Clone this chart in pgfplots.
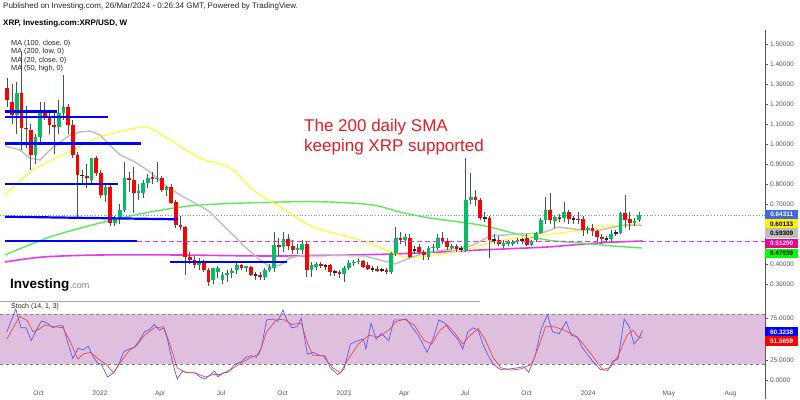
\documentclass[border=0pt]{standalone}
\usepackage{pgfplots}
\pgfplotsset{compat=1.18}
\usepackage{pgfplotstable}
\usepackage{fontspec}
\setmainfont{Liberation Sans}
\definecolor{upc}{RGB}{0,190,100}
\definecolor{dnc}{RGB}{255,0,0}
\definecolor{wick}{RGB}{65,90,75}
\definecolor{maY}{RGB}{255,250,70}
\definecolor{maG}{RGB}{190,190,190}
\definecolor{maGr}{RGB}{90,235,90}
\definecolor{maM}{RGB}{230,60,230}
\definecolor{stfill}{RGB}{222,192,222}
\definecolor{stK}{RGB}{90,90,255}
\definecolor{stD}{RGB}{240,70,70}
\definecolor{lastblue}{RGB}{65,105,225}
\definecolor{dotblue}{RGB}{110,145,255}
\definecolor{axgray}{RGB}{90,90,90}
\definecolor{titred}{RGB}{232,28,36}

\pgfplotstableread{
w o h l c
-20 1.28 1.33 1.185 1.22
-19 1.21 1.30 1.10 1.145
-18 1.145 1.31 1.05 1.255
-17 1.255 1.46 0.97 1.08
-16 1.08 1.19 0.98 1.075
-15 1.07 1.10 0.87 0.945
-14 0.945 1.05 0.90 1.035
-13 1.035 1.21 1.00 1.155
-12 1.16 1.21 1.12 1.135
-11 1.135 1.16 1.05 1.095
-10 1.095 1.16 0.95 1.085
-9 1.085 1.22 1.05 1.155
-8 1.155 1.345 1.12 1.185
-7 1.185 1.20 1.05 1.095
-6 1.095 1.12 0.93 0.945
-5 0.945 0.96 0.635 0.845
-4 0.845 0.87 0.80 0.843
-3 0.84 0.90 0.78 0.83
-2 0.82 0.93 0.80 0.93
-1 0.93 0.94 0.84 0.855
0 0.855 0.87 0.73 0.745
1 0.745 0.80 0.71 0.785
2 0.785 0.80 0.59 0.605
3 0.605 0.64 0.59 0.63
4 0.63 0.70 0.60 0.67
5 0.67 0.91 0.66 0.83
6 0.83 0.86 0.76 0.82
7 0.82 0.885 0.655 0.755
8 0.755 0.80 0.72 0.765
9 0.755 0.82 0.73 0.805
10 0.805 0.85 0.78 0.83
11 0.835 0.86 0.80 0.825
12 0.825 0.91 0.81 0.83
13 0.83 0.84 0.76 0.77
14 0.77 0.79 0.74 0.785
15 0.785 0.80 0.70 0.705
16 0.71 0.72 0.58 0.595
17 0.595 0.64 0.57 0.585
18 0.585 0.59 0.345 0.435
19 0.435 0.46 0.40 0.42
20 0.42 0.44 0.38 0.395
21 0.395 0.43 0.37 0.41
22 0.405 0.42 0.36 0.37
23 0.37 0.38 0.29 0.31
24 0.32 0.38 0.30 0.38
25 0.36 0.39 0.33 0.38
26 0.32 0.36 0.30 0.345
27 0.345 0.37 0.31 0.355
28 0.355 0.38 0.33 0.365
29 0.37 0.41 0.35 0.395
30 0.395 0.40 0.37 0.38
31 0.38 0.39 0.36 0.39
32 0.385 0.39 0.34 0.345
33 0.345 0.36 0.32 0.346
34 0.345 0.36 0.32 0.335
35 0.335 0.38 0.32 0.37
36 0.37 0.40 0.36 0.385
37 0.38 0.56 0.36 0.495
38 0.495 0.53 0.44 0.485
39 0.485 0.56 0.46 0.525
40 0.525 0.55 0.47 0.49
41 0.49 0.52 0.45 0.47
42 0.47 0.50 0.45 0.48
43 0.47 0.52 0.45 0.50
44 0.50 0.51 0.335 0.37
45 0.37 0.41 0.335 0.395
46 0.385 0.41 0.37 0.40
47 0.40 0.41 0.38 0.39
48 0.39 0.40 0.37 0.391
49 0.395 0.40 0.34 0.36
50 0.36 0.37 0.34 0.361
51 0.36 0.37 0.33 0.35
52 0.35 0.39 0.31 0.38
53 0.38 0.42 0.37 0.405
54 0.405 0.42 0.39 0.41
55 0.41 0.43 0.40 0.415
56 0.415 0.42 0.38 0.385
57 0.395 0.41 0.37 0.375
58 0.375 0.39 0.36 0.376
59 0.375 0.39 0.36 0.365
60 0.37 0.38 0.36 0.371
61 0.37 0.38 0.35 0.36
62 0.36 0.46 0.35 0.455
63 0.455 0.585 0.44 0.53
64 0.53 0.56 0.50 0.52
65 0.52 0.55 0.49 0.535
66 0.53 0.55 0.43 0.435
67 0.47 0.49 0.45 0.471
68 0.485 0.50 0.45 0.46
69 0.46 0.47 0.42 0.445
70 0.435 0.49 0.42 0.48
71 0.48 0.50 0.46 0.485
72 0.48 0.55 0.47 0.53
73 0.53 0.56 0.50 0.515
74 0.515 0.53 0.47 0.485
75 0.48 0.50 0.47 0.49
76 0.49 0.50 0.46 0.475
77 0.475 0.49 0.46 0.476
78 0.47 0.93 0.46 0.72
79 0.72 0.855 0.70 0.735
80 0.735 0.77 0.69 0.72
81 0.72 0.73 0.62 0.63
82 0.63 0.66 0.61 0.631
83 0.63 0.64 0.43 0.52
84 0.52 0.55 0.50 0.521
85 0.52 0.54 0.49 0.50
86 0.49 0.52 0.48 0.505
87 0.505 0.52 0.49 0.51
88 0.505 0.52 0.49 0.51
89 0.51 0.53 0.50 0.52
90 0.52 0.53 0.50 0.521
91 0.53 0.55 0.49 0.495
92 0.495 0.52 0.49 0.51
93 0.52 0.56 0.51 0.555
94 0.555 0.63 0.55 0.62
95 0.62 0.735 0.60 0.67
96 0.67 0.755 0.60 0.62
97 0.615 0.64 0.58 0.635
98 0.635 0.65 0.61 0.63
99 0.63 0.71 0.61 0.66
100 0.66 0.67 0.60 0.625
101 0.625 0.64 0.60 0.626
102 0.625 0.66 0.60 0.62
103 0.625 0.64 0.54 0.57
104 0.57 0.59 0.55 0.58
105 0.58 0.60 0.54 0.565
106 0.565 0.57 0.51 0.535
107 0.535 0.55 0.50 0.525
108 0.525 0.54 0.51 0.526
109 0.525 0.57 0.51 0.55
110 0.555 0.57 0.54 0.556
111 0.555 0.66 0.55 0.655
112 0.655 0.745 0.58 0.62
113 0.625 0.66 0.57 0.605
114 0.605 0.63 0.59 0.615
115 0.62 0.66 0.61 0.64311
}\candles

\pgfplotsset{candle/.style={only marks, mark=none, mark size=0pt,
  mark options={draw=none, fill=none, draw opacity=0, fill opacity=0}, forget plot}}

\begin{document}
\begin{tikzpicture}[x=1pt,y=1pt]
\useasboundingbox (0pt,0pt) rectangle (800pt,399pt);
\fill[white] (0pt,0pt) rectangle (800pt,399pt);

% ---------- price panel ----------
\begin{axis}[at={(0pt,99pt)}, anchor=south west, width=765pt, height=270pt, scale only axis,
  xmin=-21.37, xmax=142.09, ymin=0.22, ymax=1.57,
  axis x line=none, axis y line*=right, y axis line style={draw=none},
  ytick={0.3,0.4,0.5,0.6,0.7,0.8,0.9,1.0,1.1,1.2,1.3,1.4,1.5},
  major tick length=2.5pt, tick align=outside, tick style={axgray, line width=0.6pt},
  yticklabel style={font=\fontsize{6.6}{7}\selectfont, text=axgray, xshift=-1pt},
  /pgf/number format/.cd, fixed, fixed zerofill, precision=5, assume math mode=true]
\addplot[dotblue, dotted, line width=0.8pt, forget plot] coordinates {(-21.37,0.64311) (142.09,0.64311)};
\addplot[maM, line width=1.6pt, smooth] coordinates {(-20.3,0.41) (-12.2,0.435) (0,0.445) (17.1,0.445) (38.5,0.44) (62.6,0.45) (81.2,0.47) (95.5,0.485) (106.2,0.505) (115.8,0.515)};
\addplot[maGr, line width=1.4pt, smooth] coordinates {(-20.3,0.445) (-10.7,0.535) (0,0.605) (10.7,0.66) (21.4,0.695) (38.5,0.71) (49.1,0.71) (58.3,0.695) (64.1,0.66) (70.5,0.63) (81.2,0.595) (88.2,0.555) (95.5,0.52) (102.6,0.505) (109.6,0.49) (115.8,0.48)};
\addplot[maY, line width=1.4pt, smooth] coordinates {(-20.3,0.745) (-14.3,0.87) (-7.1,0.955) (0,1.035) (5.8,1.07) (10.0,1.085) (14.3,1.03) (21.4,0.93) (27.8,0.88) (32.7,0.77) (38.5,0.685) (45.5,0.585) (55.6,0.52) (62.6,0.455) (65.6,0.435) (70.5,0.44) (77.6,0.47) (83.3,0.505) (90.4,0.535) (98.3,0.555) (102.6,0.57) (109.0,0.59) (115.4,0.601)};
\addplot[maG, line width=1.4pt] coordinates {(-20.3,0.99) (-17.1,0.97) (-15.0,0.93) (-12.8,0.92) (-10.7,0.97) (-8.5,1.01) (-6.4,1.045) (-4.3,1.06) (-2.1,1.065) (0,1.045) (2.1,0.995) (4.3,0.945) (7.5,0.91) (10.7,0.86) (13.9,0.795) (17.1,0.745) (20.3,0.705) (23.5,0.66) (26.7,0.585) (31.0,0.485) (34.2,0.42) (36.3,0.385) (38.5,0.395) (40.6,0.43) (43.8,0.445) (49.1,0.445) (56.6,0.44) (61.5,0.41) (63.0,0.40) (66.2,0.43) (69.4,0.455) (76.3,0.48) (79.1,0.49) (80.6,0.505) (83.3,0.54) (89.7,0.55) (94.4,0.555) (97.9,0.585) (103.0,0.57) (106.8,0.57) (112.2,0.595) (115.8,0.593)};
% wicks
\addplot[candle, error bars/.cd, y dir=both, y explicit, error mark=none,
  error bar style={wick, line width=1pt}]
  table[x expr=\thisrow{w}+0.2, y expr=(\thisrow{h}+\thisrow{l})/2, y error expr=(\thisrow{h}-\thisrow{l})/2] {\candles};
% up bodies
\addplot[candle, error bars/.cd, y dir=both, y explicit, error mark=none,
  error bar style={upc, line width=3.7pt}]
  table[x expr=\thisrow{w}+0.2, y expr={(\thisrow{c}-\thisrow{o}>=0.0035) ? (\thisrow{o}+\thisrow{c})/2 : nan}, y error expr={max(abs(\thisrow{c}-\thisrow{o})/2,0.002)}] {\candles};
% down bodies
\addplot[candle, error bars/.cd, y dir=both, y explicit, error mark=none,
  error bar style={dnc, line width=3.7pt}]
  table[x expr=\thisrow{w}+0.2, y expr={(\thisrow{o}-\thisrow{c}>=0.0035) ? (\thisrow{o}+\thisrow{c})/2 : nan}, y error expr={max(abs(\thisrow{c}-\thisrow{o})/2,0.002)}] {\candles};
% doji bodies
\addplot[candle, error bars/.cd, y dir=both, y fixed=0.0022, error mark=none,
  error bar style={black!85, line width=3.7pt}]
  coordinates {(-3.8,0.844) (33.2,0.3455) (48.2,0.3905) (50.2,0.3605) (58.2,0.3755) (60.2,0.3705) (67.2,0.4705) (77.2,0.4755) (82.2,0.6305) (84.2,0.5205) (90.2,0.5205) (101.2,0.6255) (108.2,0.5255) (110.2,0.5555)};
% drawn support / resistance lines
\addplot[blue, line width=2.2pt, forget plot] coordinates {(-20.3,1.1625) (-9.2,1.1625)};
\addplot[blue, line width=2.2pt, forget plot] coordinates {(-20.3,1.135) (1.7,1.135)};
\addplot[blue, line width=2.2pt, forget plot] coordinates {(-20.3,1.0025) (8.76,1.0025)};
\addplot[blue, line width=2.2pt, forget plot] coordinates {(-20.3,0.80) (3.85,0.80)};
\addplot[blue, line width=2.2pt, forget plot] coordinates {(-20.3,0.6365) (16.7,0.6235)};
\addplot[blue, line width=2.2pt, forget plot] coordinates {(-20.3,0.513) (7.9,0.513)};
\addplot[blue, line width=2.2pt, forget plot] coordinates {(15,0.41) (40,0.41)};
\addplot[maM, line width=1.3pt, dash pattern=on 5pt off 3pt, forget plot] coordinates {(7.9,0.512) (142.09,0.512)};
\end{axis}

% ---------- stochastic panel ----------
\begin{axis}[at={(0pt,12pt)}, anchor=south west, width=765pt, height=83pt, scale only axis,
  xmin=-21.37, xmax=142.09, ymin=-7.56, ymax=92.08,
  axis x line*=bottom, x axis line style={draw=none},
  axis y line*=right, y axis line style={draw=none},
  xtick={-13.14,0,12.86,25.86,39,52.14,65,78,91.14,104.29,121.57,134.71},
  xticklabels={Oct,2022,Apr,Jul,Oct,2023,Apr,Jul,Oct,2024,May,Aug},
  x tick style={draw=none},
  xticklabel style={font=\fontsize{6.6}{7}\selectfont, text=axgray, yshift=2pt},
  ytick={0,25,75}, yticklabels={0.0000,25.0000,75.0000},
  y tick style={axgray, line width=0.6pt}, major tick length=2.5pt, tick align=outside,
  yticklabel style={font=\fontsize{6.6}{7}\selectfont, text=axgray, xshift=-1pt}]
\addplot[fill=stfill, draw=none, forget plot] coordinates {(-21.37,20) (142.09,20) (142.09,80) (-21.37,80)} -- cycle;
\addplot[gray, dashed, line width=0.7pt, forget plot] coordinates {(-21.37,80) (142.09,80)};
\addplot[gray, dashed, line width=0.7pt, forget plot] coordinates {(-21.37,20) (142.09,20)};
\addplot[stK, line width=0.7pt] coordinates {(-19.9,58.6) (-18,86) (-16.9,63.5) (-15.8,63.5) (-14.7,48) (-13.6,60.6) (-12.5,71.7) (-11.2,68.9) (-10.1,63.5) (-9,66) (-7.9,66) (-6.9,46) (-5.8,26.6) (-4.7,39) (-3.6,37) (-2.5,41.4) (-1.6,30) (-0.5,21) (0.3,19.7) (1.6,4.5) (2.9,9.4) (4,19.7) (5.1,35) (6.2,38) (7.3,40) (8.4,48) (9.5,58.6) (10.6,61.5) (11.6,67.6) (12.7,60.6) (13.6,63.5) (14.4,50) (15.5,21.7) (16.5,2) (17.6,11.5) (18.7,9.4) (20.3,9.4) (21.4,4.5) (22.5,2) (23.6,7.4) (24.5,11.5) (25.2,4.5) (26.3,9.4) (27.4,10.2) (28.8,19.7) (30.1,22.5) (31.2,28) (32.3,30) (33.4,28) (34.5,40) (35.6,73) (36.9,74) (38,71) (39.1,85) (39.9,73) (41,63.5) (42.1,64.8) (43,75) (44.3,32) (45.6,34) (47,30) (48.1,30) (49.2,15.6) (50.8,7.4) (52.1,13.5) (53.5,44) (55,48) (56.3,50) (56.8,38) (57.9,69) (59,50) (60.1,56.5) (61.7,48) (62.8,73) (64.4,73) (65.5,74) (66.6,64.8) (68,54.5) (69.9,34) (71.3,52.5) (72.4,73) (73.7,69) (75,58.6) (76.4,50) (77.5,38) (78.6,58.6) (79.7,63.5) (80.8,60.6) (81.8,44) (82.9,30.7) (84,19.7) (85.6,13.5) (87.8,14.3) (89.4,15.6) (90.5,16.8) (91.6,10.2) (93,30) (94.3,62.7) (95.6,79) (96.7,58.6) (98.1,56.5) (99.6,71) (100.7,54.5) (102,52.5) (103,40) (104.1,32) (105.2,23.8) (106.9,13.5) (108.5,12.3) (109.6,23.8) (110.7,25.8) (112,74) (113.1,64.8) (114.1,44) (115.2,51.2) (115.9,60.3)};
\addplot[stD, line width=0.7pt] coordinates {(-19.9,50) (-17.2,77) (-15.6,72.5) (-14.3,58.6) (-12.8,62.7) (-11.8,67) (-10.1,65) (-7.9,63.5) (-6.3,46) (-4.7,25.8) (-3.6,32) (-2,34) (-0.3,25.8) (1.3,19.7) (2.9,9.4) (4.6,23.8) (6.2,36) (7.8,42) (9.5,54.5) (11.6,63.5) (13.6,64.8) (14.9,44) (16.5,15.6) (18.2,10.2) (20.3,9.4) (22.5,4.5) (24.2,7.4) (25.8,7.4) (28,13.5) (30.1,21) (32.3,28) (34,32) (35.6,58.6) (37.8,74) (39.4,73) (41,67.6) (43,69) (44.3,46) (45.4,30.7) (47.6,30) (49.7,15.6) (51.4,9.4) (53,25.8) (55.2,44) (57.4,54.5) (59.5,52.5) (61.7,60.6) (63.3,71) (65,74) (67.1,67) (69.3,48) (70.9,44) (72.6,60.6) (74.2,67) (75.9,56.5) (77.5,44) (79.1,54.5) (80.8,62.7) (82.4,48) (84,28) (85.6,15.6) (87.8,12.7) (90,14.3) (92.2,19.7) (93.8,42) (95.2,64.8) (97.1,64.8) (99.2,60.6) (101.4,54.5) (103,46) (105.2,30) (107.4,13.5) (109,15.6) (110.7,30) (112.6,54.5) (113.9,60.6) (115,52.5) (115.9,51.6)};
\end{axis}

% ---------- decorations ----------
\draw[axgray, line width=0.8pt] (765pt,0pt) -- (765pt,369pt);
\draw[gray!70, line width=0.8pt] (0pt,98pt) -- (480pt,98pt);

\node[anchor=north west, inner sep=0pt, font=\fontsize{8}{9}\selectfont, text=black!85] at (3pt,396pt) {Published on Investing.com, 26/Mar/2024 - 0:26:34 GMT, Powered by TradingView.};
\node[anchor=north west, inner sep=0pt, font=\bfseries\fontsize{8}{9}\selectfont] at (3pt,379pt) {XRP, Investing.com:XRP/USD, W};
\node[anchor=north west, inner sep=0pt, align=left, font=\fontsize{7.3}{8.5}\selectfont, text=black!85] at (11pt,359pt) {MA (100, close, 0)\\MA (200, low, 0)\\MA (20, close, 0)\\MA (50, high, 0)};

\node[anchor=west, inner sep=0pt, align=left, font=\fontsize{17}{19.5}\selectfont, text=titred] at (304pt,262pt) {The 200 daily SMA\\keeping XRP supported};

\node[anchor=west, inner sep=0pt, font=\bfseries\fontsize{13.5}{14}\selectfont] (inv) at (10pt,114pt) {Investing};
\node[anchor=base west, inner sep=0pt, font=\fontsize{9}{10}\selectfont, text=gray] at (inv.base east) {.com};

\node[anchor=west, inner sep=0pt, font=\fontsize{7}{8}\selectfont, text=black!85] at (11pt,92pt) {Stoch (14, 1, 3)};

\tikzset{pl/.style={anchor=west, inner sep=0pt, minimum width=33pt, minimum height=9.6pt, font=\bfseries\fontsize{6.4}{7}\selectfont}}
\node[pl, fill=lastblue, text=white] at (765pt,184.3pt) {0.64311};
\node[pl, fill=yellow, text=black] at (765pt,175pt) {0.60133};
\node[pl, fill=maG, text=black] at (765pt,165.7pt) {0.59309};
\node[pl, fill=magenta, text=white] at (765pt,155.3pt) {0.51200};
\node[pl, fill=green, text=black] at (765pt,145.3pt) {0.47939};
\node[pl, fill=blue, text=white] at (765pt,67pt) {60.3238};
\node[pl, fill=red, text=white] at (765pt,58pt) {51.5659};
\end{tikzpicture}
\end{document}
